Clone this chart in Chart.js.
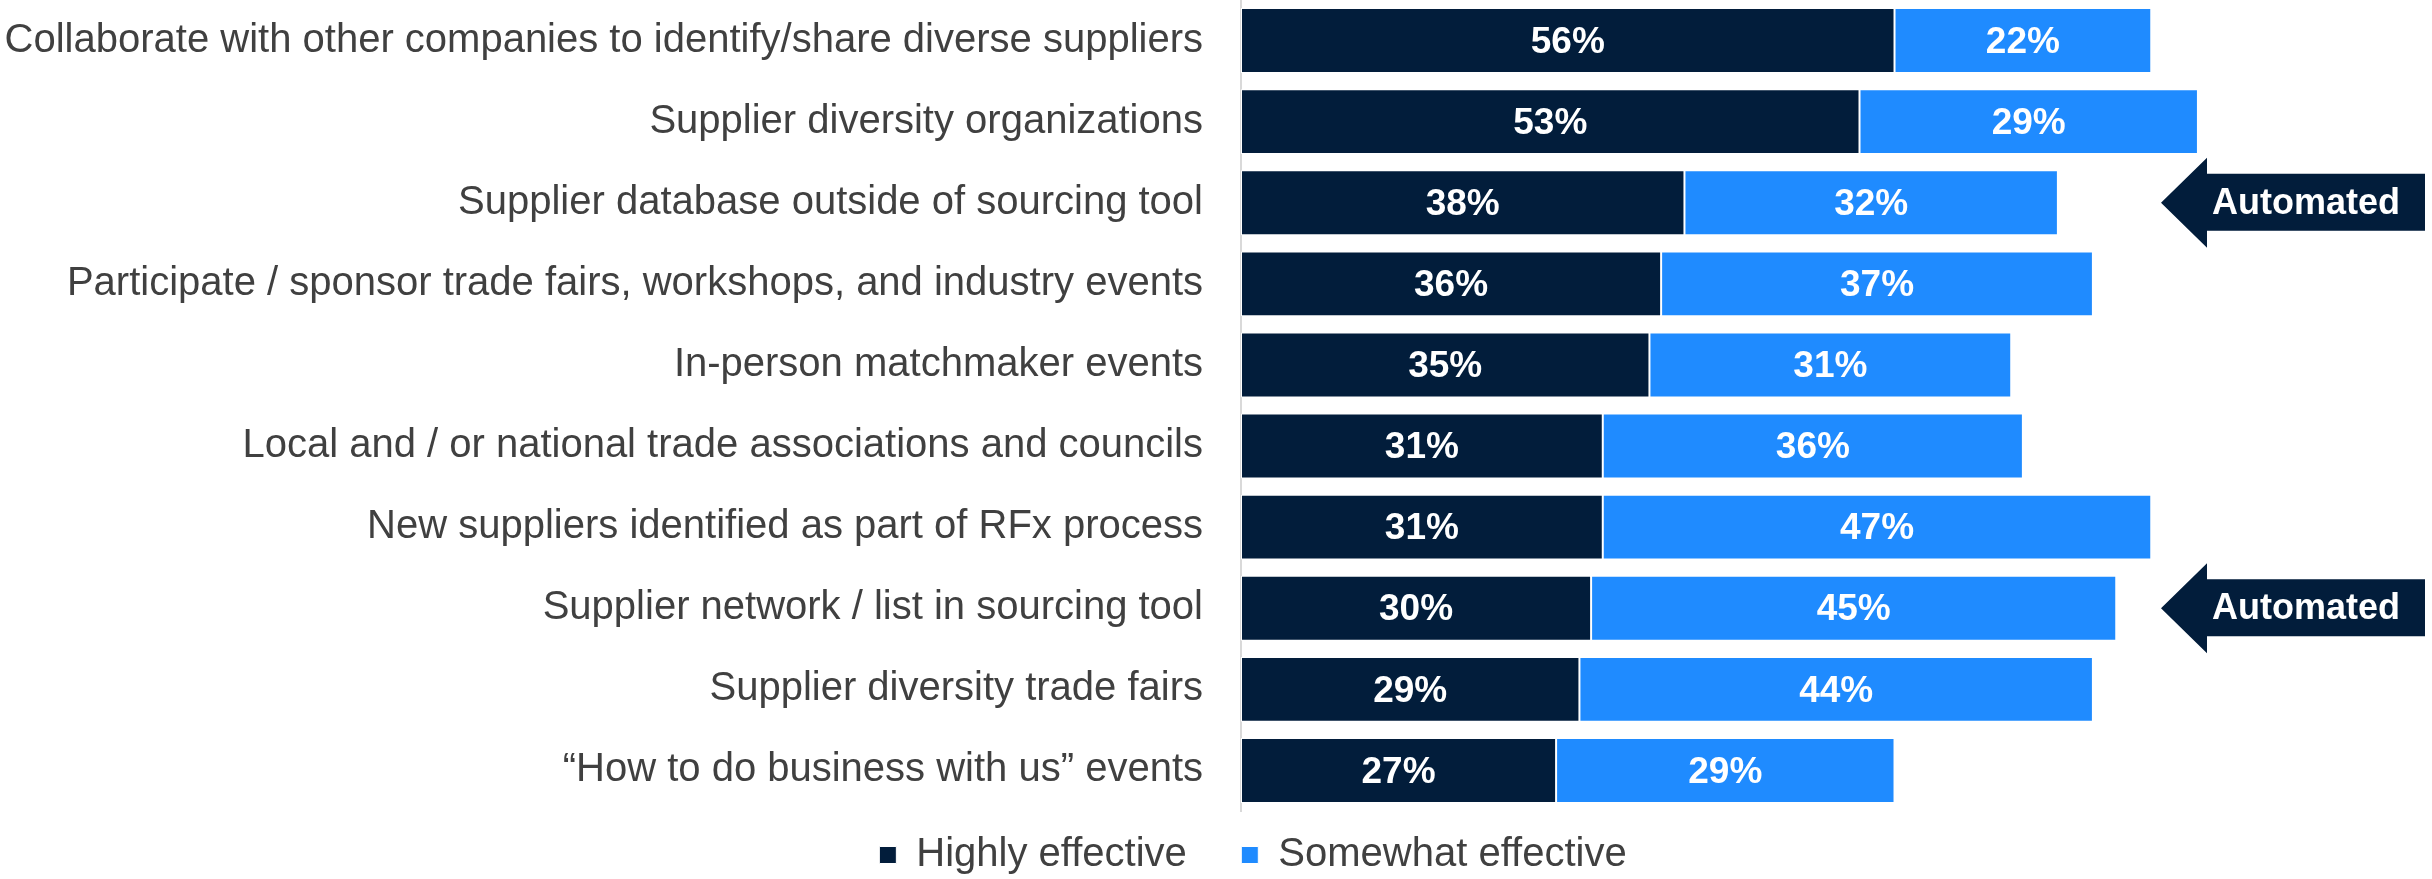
<!DOCTYPE html>
<html>
<head>
<meta charset="utf-8">
<script src="https://cdn.jsdelivr.net/npm/chart.js@4/dist/chart.umd.min.js"></script>
<style>
  html, body { margin: 0; padding: 0; background: #fff; }
  #wrap { width: 2432px; height: 879px; }
</style>
</head>
<body>
<div id="wrap"><canvas id="chart"></canvas></div>
<script>
const categories = [
	'Collaborate with other companies to identify/share diverse suppliers',
	'Supplier diversity organizations',
	'Supplier database outside of sourcing tool',
	'Participate / sponsor trade fairs, workshops, and industry events',
	'In-person matchmaker events',
	'Local and / or national trade associations and councils',
	'New suppliers identified as part of RFx process',
	'Supplier network / list in sourcing tool',
	'Supplier diversity trade fairs',
	'\u201cHow to do business with us\u201d events',
];
const highlyEffective = [56, 53, 38, 36, 35, 31, 31, 30, 29, 27];
const somewhatEffective = [22, 29, 32, 37, 31, 36, 47, 45, 44, 29];
const automatedRows = [2, 7];
const calloutText = 'Automated';

const NAVY = '#021d3b';
const BLUE = '#1f8bff';
const FONT = '"Liberation Sans", Arial, sans-serif';

// white % labels in the middle of each bar segment
const barLabels = {
	id: 'barLabels',
	afterDatasetsDraw(chart) {
		const ctx = chart.ctx;
		ctx.save();
		ctx.fillStyle = '#ffffff';
		ctx.font = 'bold 37px ' + FONT;
		ctx.textAlign = 'center';
		ctx.textBaseline = 'middle';
		chart.data.datasets.forEach((ds, i) => {
			chart.getDatasetMeta(i).data.forEach((bar, j) => {
				const mid = (bar.x + bar.base) / 2;
				ctx.fillText(ds.data[j] + '%', mid, bar.y + 2);
			});
		});
		ctx.restore();
	},
};

// "Automated" arrows pointing at flagged rows
const callouts = {
	id: 'callouts',
	afterDraw(chart) {
		const ctx = chart.ctx;
		const yScale = chart.scales.y;
		const right = chart.chartArea.right;
		ctx.save();
		automatedRows.forEach((row) => {
			const cy = yScale.getPixelForValue(row);
			const tip = right - 247;
			const neck = tip + 46;
			const end = right + 17;
			ctx.beginPath();
			ctx.moveTo(tip, cy);
			ctx.lineTo(neck, cy - 45);
			ctx.lineTo(neck, cy - 29);
			ctx.lineTo(end, cy - 29);
			ctx.lineTo(end, cy + 28);
			ctx.lineTo(neck, cy + 28);
			ctx.lineTo(neck, cy + 45);
			ctx.closePath();
			ctx.fillStyle = NAVY;
			ctx.fill();
			ctx.fillStyle = '#ffffff';
			ctx.font = 'bold 36px ' + FONT;
			ctx.textAlign = 'center';
			ctx.textBaseline = 'middle';
			ctx.fillText(calloutText, (neck + end) / 2 - 10, cy + 1);
		});
		ctx.restore();
	},
};

// legend sits right of the canvas centre and a little lower in the original
const legendShift = {
	id: 'legendShift',
	afterLayout(chart) {
		chart.legend.left += 49;
		chart.legend.right += 49;
		chart.legend.top += 14;
		chart.legend.bottom += 14;
	},
};

const AXIS_X = 1241;

new Chart(document.getElementById('chart'), {
	type: 'bar',
	data: {
		labels: categories,
		datasets: [
			{
				label: 'Highly effective',
				data: highlyEffective,
				backgroundColor: NAVY,
				borderColor: '#ffffff',
				borderWidth: 1,
				borderSkipped: false,
			},
			{
				label: 'Somewhat effective',
				data: somewhatEffective,
				backgroundColor: BLUE,
				borderColor: '#ffffff',
				borderWidth: 1,
				borderSkipped: false,
			},
		],
	},
	plugins: [barLabels, callouts, legendShift],
	options: {
		indexAxis: 'y',
		responsive: true,
		maintainAspectRatio: false,
		animation: false,
		layout: {
			padding: { left: 0, right: 24, top: -3, bottom: 8 },
		},
		datasets: {
			bar: { categoryPercentage: 0.8, barPercentage: 1 },
		},
		scales: {
			x: {
				stacked: true,
				min: 0,
				max: 100,
				display: false,
			},
			y: {
				stacked: true,
				afterFit(scale) {
					scale.width = AXIS_X;
					scale.paddingTop = 0;
					scale.paddingBottom = 0;
				},
				grid: { display: false, drawTicks: false },
				border: { display: true, color: '#d9d9d9', width: 2 },
				ticks: {
					padding: 38,
					color: '#404040',
					font: { family: FONT, size: 40 },
					autoSkip: false,
				},
			},
		},
		plugins: {
			tooltip: { enabled: false },
			legend: {
				position: 'bottom',
				labels: {
					color: '#404040',
					font: { family: FONT, size: 40 },
					boxWidth: 17,
					boxHeight: 17,
					padding: 10,
					// trailing spaces widen the gap between the two items
					generateLabels(chart) {
						const items = Chart.defaults.plugins.legend.labels.generateLabels(chart);
						items[0].text += '    ';
						return items;
					},
				},
			},
		},
	},
});
</script>
</body>
</html>
